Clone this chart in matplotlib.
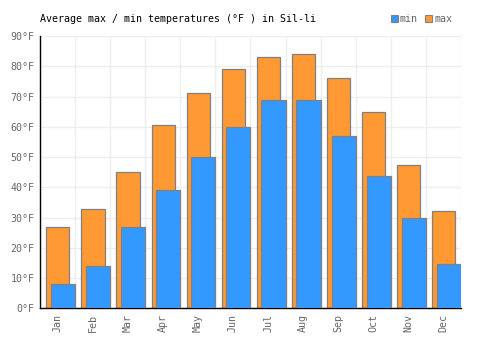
import matplotlib
matplotlib.use("Agg")
import matplotlib.pyplot as plt
from matplotlib.patches import Rectangle
import numpy as np

months = ["Jan", "Feb", "Mar", "Apr", "May", "Jun", "Jul", "Aug", "Sep", "Oct", "Nov", "Dec"]
max_temps = [27.0, 32.7, 45.0, 60.5, 71.0, 79.0, 83.0, 84.0, 76.0, 64.8, 47.3, 32.1]
min_temps = [8.0, 14.0, 26.8, 39.0, 50.0, 60.0, 68.7, 68.7, 56.8, 43.6, 29.7, 14.5]
yticks = [0, 10, 20, 30, 40, 50, 60, 70, 80, 90]
title = "Average max / min temperatures (°F ) in Sil-li"

FONT = "DejaVu Sans Mono"
FS = 7.2
ORANGE = "#ff9933"
BLUE = "#3399ff"
EDGE = "#808080"
TXT = "#666666"

fig = plt.figure(figsize=(5, 3.5), dpi=100)
ax = fig.add_axes([40 / 500, 1 - 308.3 / 350, 421 / 500, (308.3 - 36) / 350])

x = np.arange(len(months))
ax.bar(x + 0.01, max_temps, width=0.66, color=ORANGE, edgecolor=EDGE, linewidth=0.9, zorder=2)
ax.bar(x + 0.155, min_temps, width=0.69, color=BLUE, edgecolor=EDGE, linewidth=0.9, zorder=3)

ax.set_xlim(-0.5, len(months) - 0.5)
ax.set_ylim(0, 90)
ax.set_yticks(yticks)
ax.set_yticklabels([f"{v}°F" for v in yticks], fontfamily=FONT, fontsize=FS, color=TXT)
ax.set_xticks(x)
ax.set_xticklabels(months, rotation=90, fontfamily=FONT, fontsize=FS, color=TXT)
ax.set_xticks(np.arange(-0.5, len(months), 1), minor=True)
ax.tick_params(axis="both", which="both", length=0, pad=4)
ax.grid(True, axis="y", color="#eeeeee", linewidth=1, zorder=0)
ax.grid(True, axis="x", which="minor", color="#eeeeee", linewidth=1, zorder=0)
ax.set_axisbelow(True)
for s in ["top", "right"]:
    ax.spines[s].set_visible(False)
ax.spines["left"].set_color("black")
ax.spines["bottom"].set_color("black")
ax.spines["left"].set_linewidth(1)
ax.spines["bottom"].set_linewidth(1)

fig.text(40 / 500, 1 - 19 / 350, title, fontfamily=FONT, fontsize=FS, color="black",
         ha="left", va="center")

# legend
for sx, col, lab, tx in [(391, BLUE, "min", 400), (425, ORANGE, "max", 434.5)]:
    fig.patches.append(Rectangle((sx / 500, 1 - 21.5 / 350), 6.5 / 500, 6.5 / 350,
                                 transform=fig.transFigure, facecolor=col,
                                 edgecolor=EDGE, linewidth=0.8))
    fig.text(tx / 500, 1 - 19 / 350, lab, fontfamily=FONT, fontsize=FS, color=TXT,
             ha="left", va="center")

fig.savefig("out.png", dpi=100)
